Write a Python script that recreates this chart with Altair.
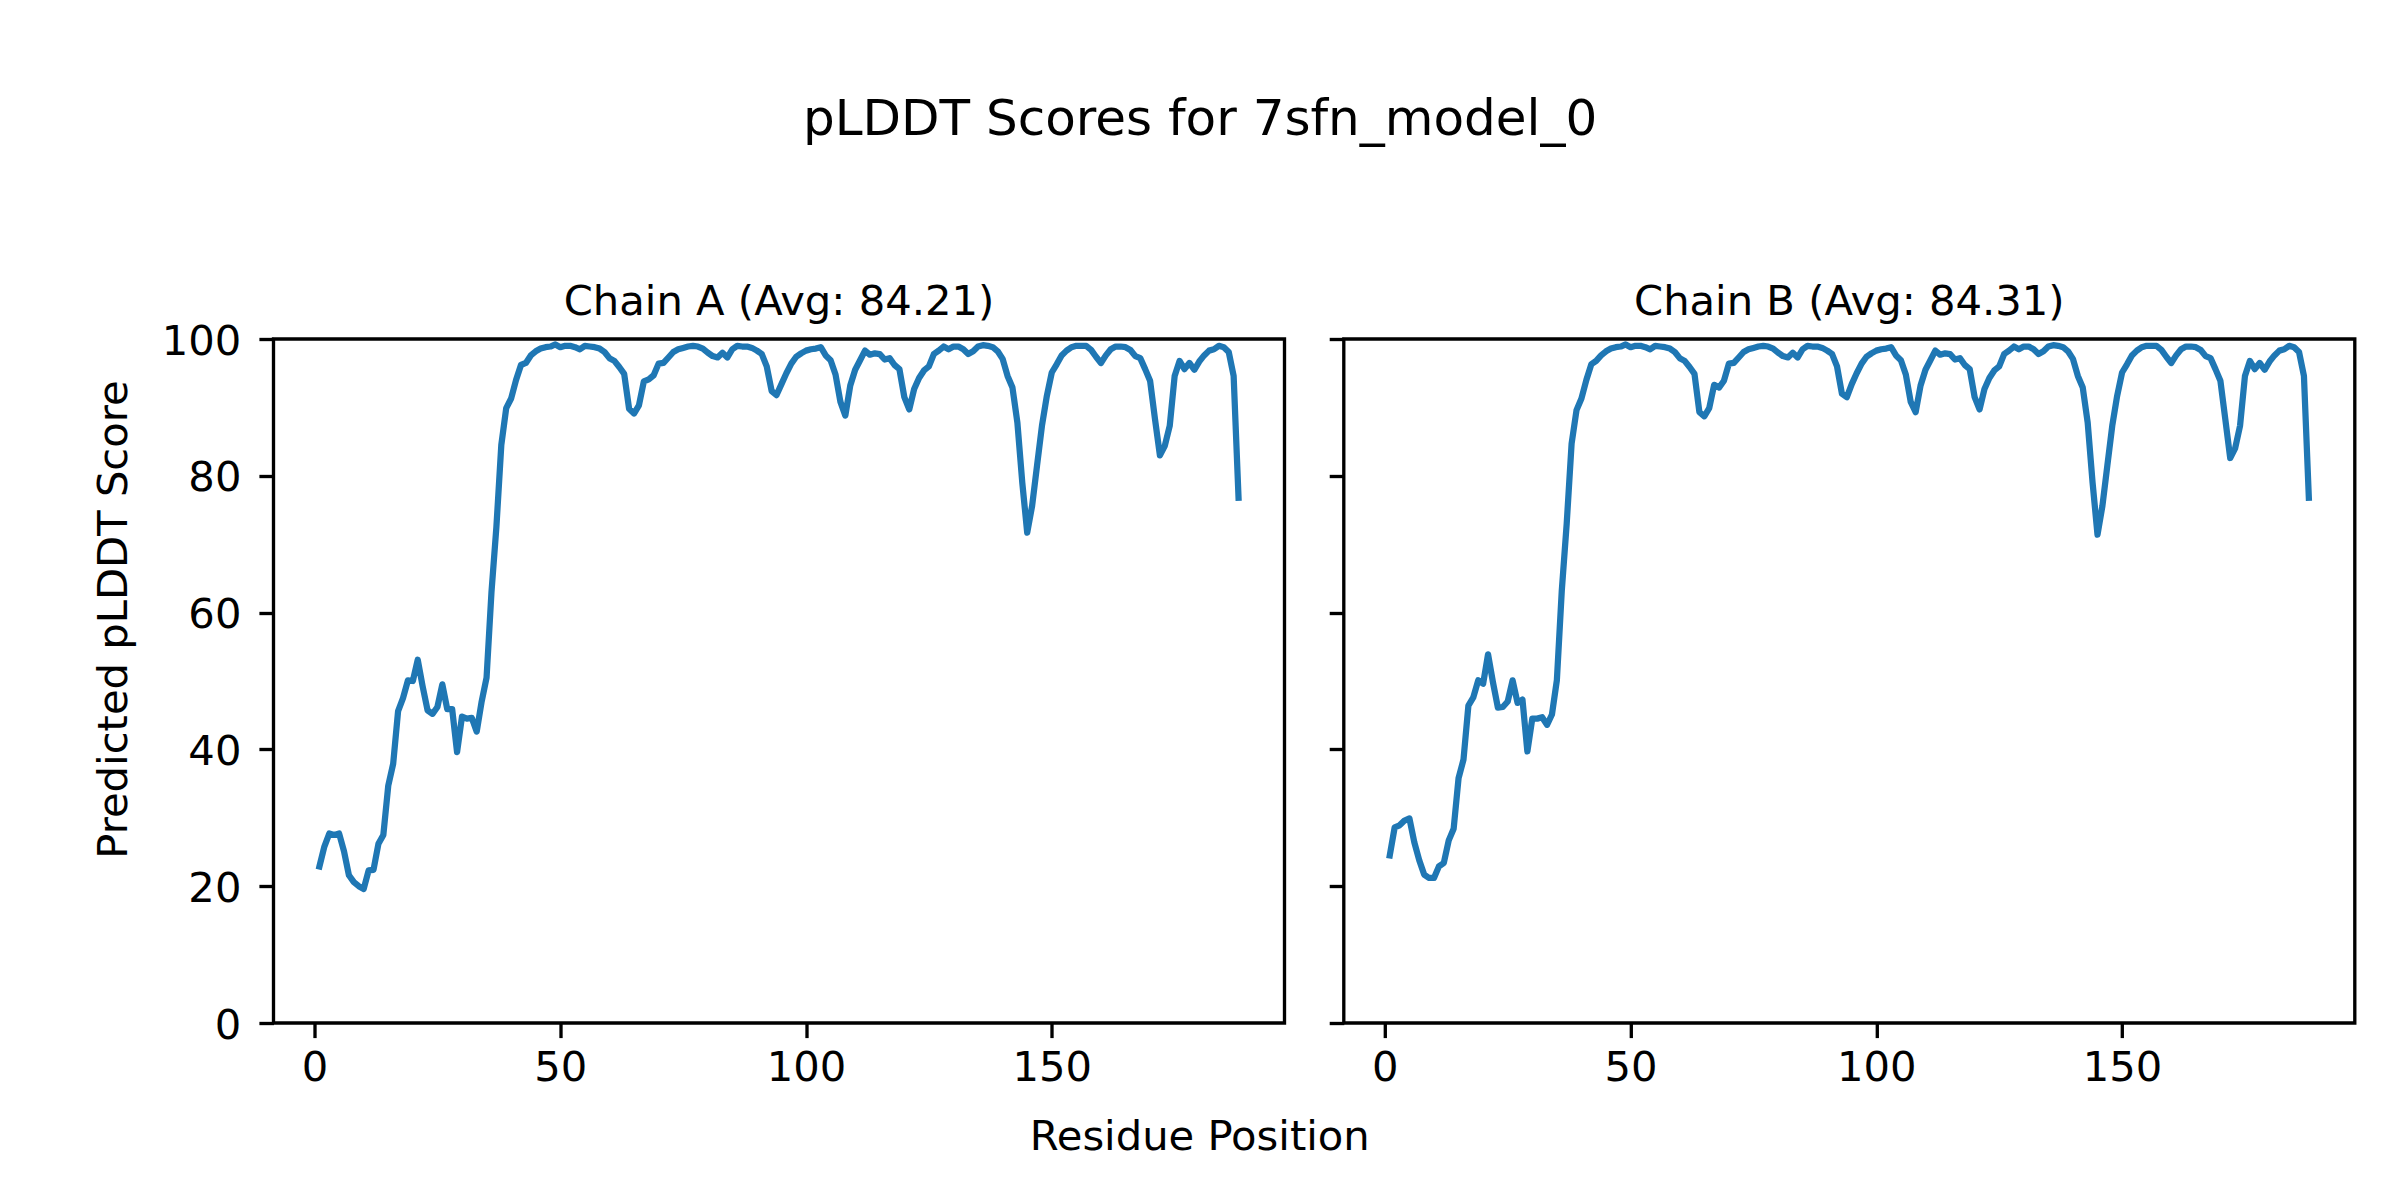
import altair as alt
import pandas as pd

# ---------------- data ----------------
residues = list(range(1, 189))

chain_a_scores = [
    22.9, 25.8, 27.7, 27.5, 27.7, 25.1, 21.6, 20.6, 20.0, 19.6,
    22.3, 22.4, 26.2, 27.5, 34.7, 37.9, 45.6, 47.5, 50.1, 50.0,
    53.1, 49.2, 45.7, 45.2, 46.2, 49.5, 45.9, 45.9, 39.6, 44.8,
    44.5, 44.6, 42.6, 47.0, 50.5, 63.0, 72.5, 84.5, 89.9, 91.3,
    94.0, 96.2, 96.5, 97.6, 98.2, 98.6, 98.8, 98.9, 99.2, 98.8,
    99.0, 99.0, 98.8, 98.5, 99.0, 98.9, 98.8, 98.6, 98.1, 97.2,
    96.8, 95.9, 94.9, 89.8, 89.1, 90.3, 93.8, 94.1, 94.7, 96.4,
    96.5, 97.3, 98.1, 98.5, 98.7, 98.9, 99.0, 98.9, 98.6, 98.0,
    97.5, 97.3, 98.0, 97.3, 98.5, 99.0, 98.9, 98.9, 98.7, 98.3,
    97.8, 96.0, 92.4, 91.8, 93.4, 95.0, 96.4, 97.4, 97.9, 98.3,
    98.5, 98.6, 98.8, 97.6, 96.9, 94.8, 90.8, 88.8, 93.2, 95.5,
    96.9, 98.3, 97.7, 97.9, 97.8, 97.0, 97.2, 96.2, 95.6, 91.5,
    89.7, 92.7, 94.3, 95.4, 96.0, 97.8, 98.3, 98.9, 98.5, 98.9,
    98.9, 98.5, 97.8, 98.2, 98.9, 99.1, 99.0, 98.8, 98.2, 97.1,
    94.6, 92.9, 87.8, 79.0, 71.7, 75.6, 81.5, 87.3, 91.7, 95.1,
    96.3, 97.6, 98.3, 98.8, 99.0, 99.0, 99.0, 98.4, 97.4, 96.5,
    97.6, 98.5, 98.9, 98.9, 98.8, 98.4, 97.5, 97.2, 95.6, 93.9,
    88.3, 83.0, 84.4, 87.3, 94.6, 96.8, 95.6, 96.5, 95.5, 96.7,
    97.6, 98.3, 98.5, 99.0, 98.8, 98.1, 94.6, 76.8,
]

chain_b_scores = [
    24.5, 28.6, 28.9, 29.6, 29.9, 26.4, 23.8, 21.7, 21.2, 21.2,
    22.9, 23.4, 26.7, 28.4, 35.8, 38.5, 46.4, 47.6, 50.1, 49.6,
    53.9, 49.8, 46.1, 46.2, 47.0, 50.1, 46.8, 47.3, 39.7, 44.5,
    44.5, 44.7, 43.6, 45.1, 50.1, 63.2, 73.0, 84.7, 89.6, 91.3,
    94.0, 96.3, 96.8, 97.6, 98.2, 98.6, 98.8, 98.9, 99.2, 98.8,
    99.0, 99.0, 98.8, 98.5, 99.0, 98.9, 98.8, 98.6, 98.1, 97.2,
    96.8, 95.9, 94.9, 89.3, 88.7, 89.9, 93.3, 92.9, 93.9, 96.4,
    96.5, 97.3, 98.1, 98.5, 98.7, 98.9, 99.0, 98.9, 98.6, 98.0,
    97.5, 97.3, 98.0, 97.3, 98.5, 99.0, 98.9, 98.9, 98.7, 98.3,
    97.8, 96.0, 92.0, 91.5, 93.4, 95.0, 96.4, 97.4, 97.9, 98.3,
    98.5, 98.6, 98.8, 97.6, 96.9, 94.8, 90.8, 89.3, 93.2, 95.5,
    96.9, 98.3, 97.7, 97.9, 97.8, 97.0, 97.2, 96.2, 95.6, 91.5,
    89.7, 92.7, 94.3, 95.4, 96.0, 97.8, 98.3, 98.9, 98.5, 98.9,
    98.9, 98.5, 97.8, 98.2, 98.9, 99.1, 99.0, 98.8, 98.2, 97.1,
    94.6, 92.9, 87.8, 79.0, 71.4, 75.6, 81.5, 87.3, 91.7, 95.1,
    96.3, 97.6, 98.3, 98.8, 99.0, 99.0, 99.0, 98.4, 97.4, 96.5,
    97.6, 98.5, 98.9, 98.9, 98.8, 98.4, 97.5, 97.2, 95.6, 93.9,
    88.3, 82.6, 84.0, 87.3, 94.6, 96.8, 95.6, 96.5, 95.5, 96.7,
    97.6, 98.3, 98.5, 99.0, 98.8, 98.1, 94.6, 76.8,
]

panel_titles = ["Chain A (Avg: 84.21)", "Chain B (Avg: 84.31)"]
main_title = "pLDDT Scores for 7sfn_model_0"
x_label = "Residue Position"
y_label = "Predicted pLDDT Score"
x_ticks = [0, 50, 100, 150]
y_ticks = [0, 20, 40, 60, 80, 100]

# ---------------- styling ----------------
FONT = "DejaVu Sans"
BLUE = "#1f77b4"
FS = 41.7          # 10 pt at 300 dpi
FS_BIG = 50        # 12 pt at 300 dpi
PW, PH = 1011, 684
TICK = 14.6
TW = 3.33


def make_panel(scores, title, first):
    df = pd.DataFrame({"residue": residues, "score": scores})
    x_axis_kw = dict(
        values=x_ticks, domain=False, grid=False, ticks=True,
        tickSize=TICK, tickWidth=TW, tickColor="black",
        labelFont=FONT, labelFontSize=FS, labelColor="black",
        labelPadding=9.7, labelAngle=0,
    )
    y_axis_kw = dict(
        values=y_ticks, domain=False, grid=False, ticks=True,
        tickSize=TICK, tickWidth=TW, tickColor="black",
        labelFont=FONT, labelFontSize=FS, labelColor="black",
        labelPadding=18, labelOffset=2,
    )
    if first:
        x_axis = alt.Axis(
            title=x_label, titleFont=FONT, titleFontSize=FS, titleFontWeight="normal",
            titleColor="black", titleX=925.7, titleY=126, titleAlign="center",
            titleBaseline="alphabetic", **x_axis_kw)
        y_axis = alt.Axis(
            title=y_label, titleFont=FONT, titleFontSize=FS, titleFontWeight="normal",
            titleColor="black", titleX=-147, titleY=280, titleAngle=270,
            titleAlign="center", titleBaseline="alphabetic", **y_axis_kw)
    else:
        x_axis = alt.Axis(title=None, **x_axis_kw)
        y_axis = alt.Axis(title=None, labelOpacity=0, **y_axis_kw)

    return (
        alt.Chart(df)
        .mark_line(color=BLUE, strokeWidth=6.25, strokeCap="square", strokeJoin="round")
        .encode(
            x=alt.X("residue:Q", scale=alt.Scale(domain=[-8.35, 197.35], nice=False, zero=False), axis=x_axis),
            y=alt.Y("score:Q", scale=alt.Scale(domain=[0, 100], nice=False), axis=y_axis),
        )
        .properties(
            width=PW, height=PH,
            title=alt.TitleParams(
                text=title, font=FONT, fontSize=FS, fontWeight="normal", color="black",
                anchor="middle", frame="group", baseline="alphabetic", offset=8.7, dy=44,
            ),
        )
    )


panel_a = make_panel(chain_a_scores, panel_titles[0], True)
panel_b = make_panel(chain_b_scores, panel_titles[1], False)

chart = (
    alt.hconcat(panel_a, panel_b, spacing=59.3, bounds="flush")
    .properties(
        title=alt.TitleParams(
            text=main_title, font=FONT, fontSize=FS_BIG, fontWeight="normal", color="black",
            anchor="middle", baseline="alphabetic", offset=95, dx=-24,
        ),
        padding={"left": 83.5, "top": 86, "right": 5, "bottom": 5},
    )
    .configure(font=FONT)
    .configure_view(stroke="black", strokeWidth=TW)
)

chart.save("out.html", embed_options={"renderer": "svg", "actions": False})
